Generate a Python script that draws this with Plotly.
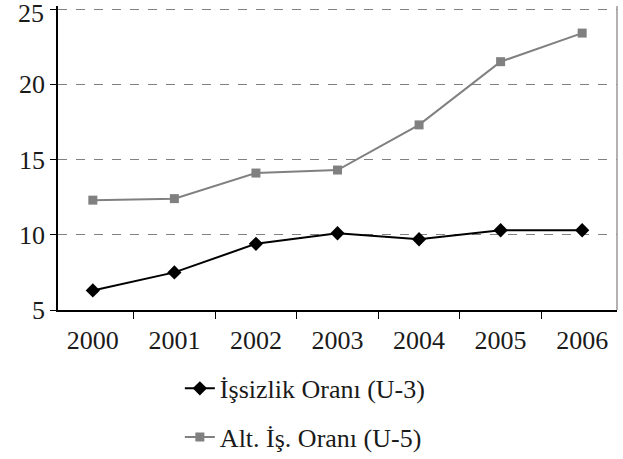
import plotly.graph_objects as go

# data
years = ['2000', '2001', '2002', '2003', '2004', '2005', '2006']
u3_rate = [6.3, 7.5, 9.4, 10.1, 9.7, 10.3, 10.3]
u5_rate = [12.3, 12.4, 14.1, 14.3, 17.3, 21.5, 23.4]
series_names = ['İşsizlik Oranı (U-3)', 'Alt. İş. Oranı (U-5)']
y_ticks = [5, 10, 15, 20, 25]

font_family = '"Liberation Serif", "DejaVu Serif", serif'
text_color = '#1a1a1a'
gray = '#808080'

fig = go.Figure()

fig.add_trace(go.Scatter(
    x=years,
    y=u3_rate,
    name=series_names[0],
    legendgroup='u3',
    mode='lines+markers',
    line={'color': '#000000', 'width': 2},
    marker={'symbol': 'diamond', 'size': 11, 'color': '#000000'},
))
fig.add_trace(go.Scatter(
    x=years,
    y=u5_rate,
    name=series_names[1],
    legendgroup='u5',
    mode='lines+markers',
    line={'color': gray, 'width': 2},
    marker={'symbol': 'square', 'size': 9, 'color': gray},
))

# right border of the plot area
fig.add_shape(type='line', xref='paper', yref='paper', x0=1, x1=1, y0=0, y1=1,
              line={'color': '#999999', 'width': 1.5})

# top tick label sits a bit lower than its gridline (like the original), so it's an annotation
tick_text = [str(v) for v in y_ticks[:-1]] + ['']
fig.add_annotation(text=str(y_ticks[-1]), xref='paper', yref='y', x=0, y=y_ticks[-1],
                   xanchor='right', yanchor='middle', xshift=-12, yshift=-4,
                   showarrow=False, font={'size': 26, 'family': font_family, 'color': text_color})

fig.update_layout(
    width=623,
    height=459,
    margin={'l': 58, 'r': 6, 't': 6, 'b': 149},
    paper_bgcolor='white',
    plot_bgcolor='white',
    font={'family': font_family, 'size': 26, 'color': text_color},
    showlegend=True,
    legend={
        'orientation': 'v',
        'x': 0.218,
        'xanchor': 'left',
        'yref': 'container',
        'y': 0.205,
        'yanchor': 'top',
        'bgcolor': 'rgba(0,0,0,0)',
        'font': {'size': 26, 'family': font_family, 'color': text_color},
        'tracegroupgap': 12,
    },
    xaxis={
        'type': 'category',
        'tickson': 'boundaries',
        'ticks': 'outside',
        'ticklen': 7,
        'tickcolor': '#000000',
        'showline': True,
        'linecolor': '#000000',
        'linewidth': 1.5,
        'showgrid': False,
        'zeroline': False,
        'automargin': False,
        'ticklabelstandoff': 6,
        'tickfont': {'size': 26},
    },
    yaxis={
        # a little headroom so the 25 gridline is not dropped at the edge
        'range': [5, 25.2],
        'tickvals': y_ticks,
        'ticktext': tick_text,
        'ticks': 'outside',
        'ticklen': 6,
        'tickcolor': '#000000',
        'showline': True,
        'linecolor': '#000000',
        'linewidth': 1.5,
        'showgrid': True,
        'gridcolor': gray,
        'griddash': 'dash',
        'gridwidth': 1,
        'zeroline': False,
        'automargin': False,
        'tickfont': {'size': 26},
    },
)

# the page has a default 8px body margin; drop it so the figure sits at the corner
fig.write_html("out.html", config={'displayModeBar': False},
               post_script="document.body.style.margin = '0';")
